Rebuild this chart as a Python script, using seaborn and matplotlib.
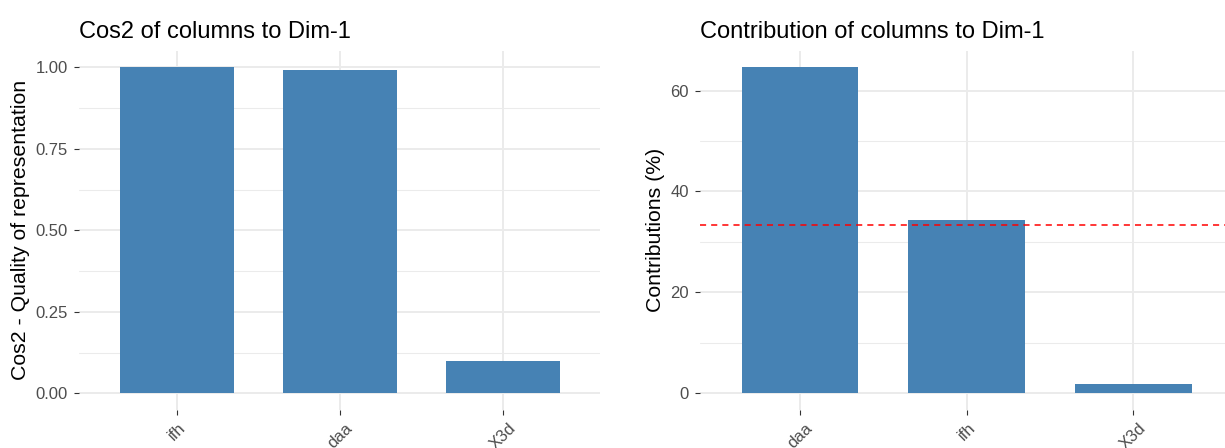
import matplotlib
matplotlib.use("Agg")
import matplotlib.pyplot as plt
from matplotlib.ticker import FixedLocator
import seaborn as sns
import pandas as pd

# ---- data ----
cos2_cats = ["ifh", "daa", "X3d"]
cos2_vals = [1.00, 0.992, 0.099]
cos2_ticks = [0.00, 0.25, 0.50, 0.75, 1.00]
cos2_tick_labels = ["0.00", "0.25", "0.50", "0.75", "1.00"]
cos2_minor = [0.125, 0.375, 0.625, 0.875]

contrib_cats = ["daa", "ifh", "X3d"]
contrib_vals = [64.6, 34.3, 1.9]
contrib_ticks = [0, 20, 40, 60]
contrib_tick_labels = ["0", "20", "40", "60"]
contrib_minor = [10, 30, 50]
contrib_ref = 100.0 / 3

sns.set_theme(style="white")
plt.rcParams["font.family"] = ["Liberation Sans", "DejaVu Sans"]

W, H = 1225, 448
fig = plt.figure(figsize=(W / 100, H / 100), dpi=100)

GRID = "#EBEBEB"
BAR = "#4682B4"


def panel(rect, cats, vals, ticks, ticklabels, minor, title, ylabel, ref=None):
    ax = fig.add_axes(rect)
    df = pd.DataFrame({"cat": cats, "val": vals})
    sns.barplot(data=df, x="cat", y="val", order=cats, color=BAR,
                saturation=1, width=0.7, ax=ax, zorder=3)
    for p in ax.patches:
        p.set_edgecolor("none")
    ymax = max(vals)
    ax.set_ylim(-0.05 * ymax, 1.05 * ymax)
    ax.set_xlim(-0.6, len(cats) - 0.4)
    ax.yaxis.set_major_locator(FixedLocator(ticks))
    ax.set_yticklabels(ticklabels)
    ax.yaxis.set_minor_locator(FixedLocator(minor))
    ax.grid(True, which="major", axis="both", color=GRID, linewidth=1.4, zorder=0)
    ax.grid(True, which="minor", axis="y", color=GRID, linewidth=0.75, zorder=0)
    ax.set_axisbelow(True)
    for s in ax.spines.values():
        s.set_visible(False)
    ax.tick_params(axis="y", which="major", length=3.6, width=0.8, color="#333333",
                   labelsize=12, labelcolor="#4D4D4D", pad=4.5, left=True)
    ax.tick_params(axis="y", which="minor", length=0)
    ax.tick_params(axis="x", which="major", length=3.6, width=0.8, color="#333333",
                   labelsize=12, labelcolor="#4D4D4D", pad=4, bottom=True)
    for lab in ax.get_xticklabels():
        lab.set_rotation(45)
        lab.set_ha("center")
    ax.set_xlabel("")
    ax.set_ylabel(ylabel, fontsize=15.3, color="black", labelpad=4)
    ax.set_title(title, loc="left", fontsize=17, color="black", pad=9)
    if ref is not None:
        ax.axhline(ref, color="#FF0000", linewidth=1.1, linestyle=(0, (4, 3.3)), zorder=4)
    return ax


ax1 = panel([79.3 / W, 1 - 409.6 / H, 521.1 / W, 358.6 / H],
            cos2_cats, cos2_vals, cos2_ticks, cos2_tick_labels, cos2_minor,
            "Cos2 of columns to Dim-1", "Cos2 - Quality of representation")
ax2 = panel([700.0 / W, 1 - 409.6 / H, 533.3 / W, 358.6 / H],
            contrib_cats, contrib_vals, contrib_ticks, contrib_tick_labels, contrib_minor,
            "Contribution of columns to Dim-1", "Contributions (%)", ref=contrib_ref)

fig.savefig("out.png", dpi=100)
